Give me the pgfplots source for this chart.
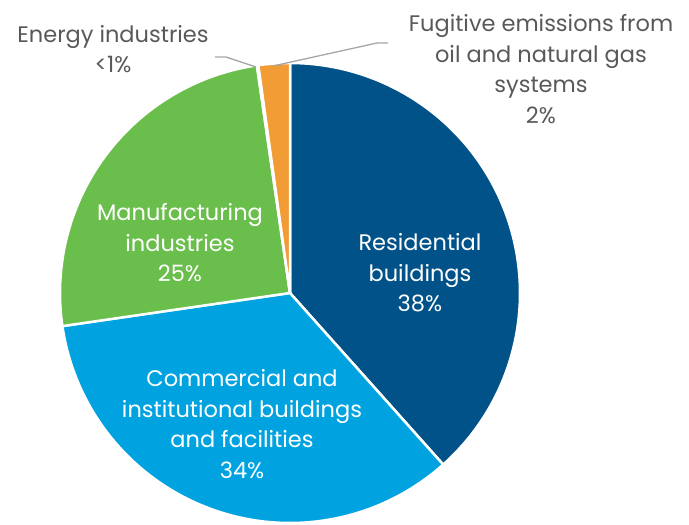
\documentclass[border=0pt]{standalone}
\usepackage{pgfplots}
\pgfplotsset{compat=1.18}
\usepackage{fontspec}
\setmainfont{Poppins}
\definecolor{resblue}{RGB}{0,82,136}
\definecolor{comblue}{RGB}{0,163,224}
\definecolor{mangreen}{RGB}{106,190,75}
\definecolor{fugorange}{RGB}{241,156,53}
\definecolor{engrey}{RGB}{165,165,165}
\definecolor{txtgrey}{RGB}{89,89,89}
\definecolor{leadgrey}{RGB}{166,166,166}
% shares (percent), clockwise from 12 o'clock
\def\vRes{38.4}
\def\vCom{34.3}
\def\vMan{25.0}
\def\vEne{0.1}
\def\vFug{2.2}
\pgfmathsetmacro{\aA}{90}
\pgfmathsetmacro{\aB}{\aA-3.6*\vRes}
\pgfmathsetmacro{\aC}{\aB-3.6*\vCom}
\pgfmathsetmacro{\aD}{\aC-3.6*\vMan}
\pgfmathsetmacro{\aE}{\aD-3.6*\vEne}
\pgfmathsetmacro{\aF}{\aE-3.6*\vFug}
\def\cx{290}
\def\cy{232}
\def\rr{230}
\begin{document}
\begin{tikzpicture}
\begin{axis}[x=1pt, y=1pt, xmin=0, xmax=689, ymin=0, ymax=525,
  hide axis, clip=false, scale only axis]
\path (axis cs:0,0) rectangle (axis cs:689,525);
\addplot[fill=resblue, draw=white, line width=2.5pt, line join=round, domain=\aB:\aA, samples=120, variable=\t]
  ({\cx+\rr*cos(t)},{\cy+\rr*sin(t)}) -- (axis cs:\cx,\cy) -- cycle;
\addplot[fill=comblue, draw=white, line width=2.5pt, line join=round, domain=\aC:\aB, samples=120, variable=\t]
  ({\cx+\rr*cos(t)},{\cy+\rr*sin(t)}) -- (axis cs:\cx,\cy) -- cycle;
\addplot[fill=mangreen, draw=white, line width=2.5pt, line join=round, domain=\aD:\aC, samples=120, variable=\t]
  ({\cx+\rr*cos(t)},{\cy+\rr*sin(t)}) -- (axis cs:\cx,\cy) -- cycle;
\addplot[fill=engrey, draw=white, line width=2.5pt, line join=round, domain=\aE:\aD, samples=5, variable=\t]
  ({\cx+\rr*cos(t)},{\cy+\rr*sin(t)}) -- (axis cs:\cx,\cy) -- cycle;
\addplot[fill=fugorange, draw=white, line width=2.5pt, line join=round, domain=\aF:\aE, samples=20, variable=\t]
  ({\cx+\rr*cos(t)},{\cy+\rr*sin(t)}) -- (axis cs:\cx,\cy) -- cycle;
% leader lines
\draw[leadgrey, line width=1.3pt] (axis cs:215,468) -- (axis cs:226,468) -- (axis cs:256,458);
\draw[leadgrey, line width=1.3pt] (axis cs:273,459) -- (axis cs:377,482) -- (axis cs:388,482);
% labels
\tikzset{lbl/.style={align=center, font=\fontsize{22.5}{30.5}\selectfont, inner sep=0pt}}
\node[lbl, text=txtgrey] at (axis cs:113,476) {Energy industries\\<1\%};
\node[lbl, text=txtgrey] at (axis cs:541,456) {Fugitive emissions from\\oil and natural gas\\systems\\2\%};
\node[lbl, text=white] at (axis cs:180,282) {Manufacturing\\industries\\25\%};
\node[lbl, text=white] at (axis cs:420,252) {Residential\\buildings\\38\%};
\node[lbl, text=white] at (axis cs:242,101) {Commercial and\\institutional buildings\\and facilities\\34\%};
\end{axis}
\end{tikzpicture}
\end{document}
